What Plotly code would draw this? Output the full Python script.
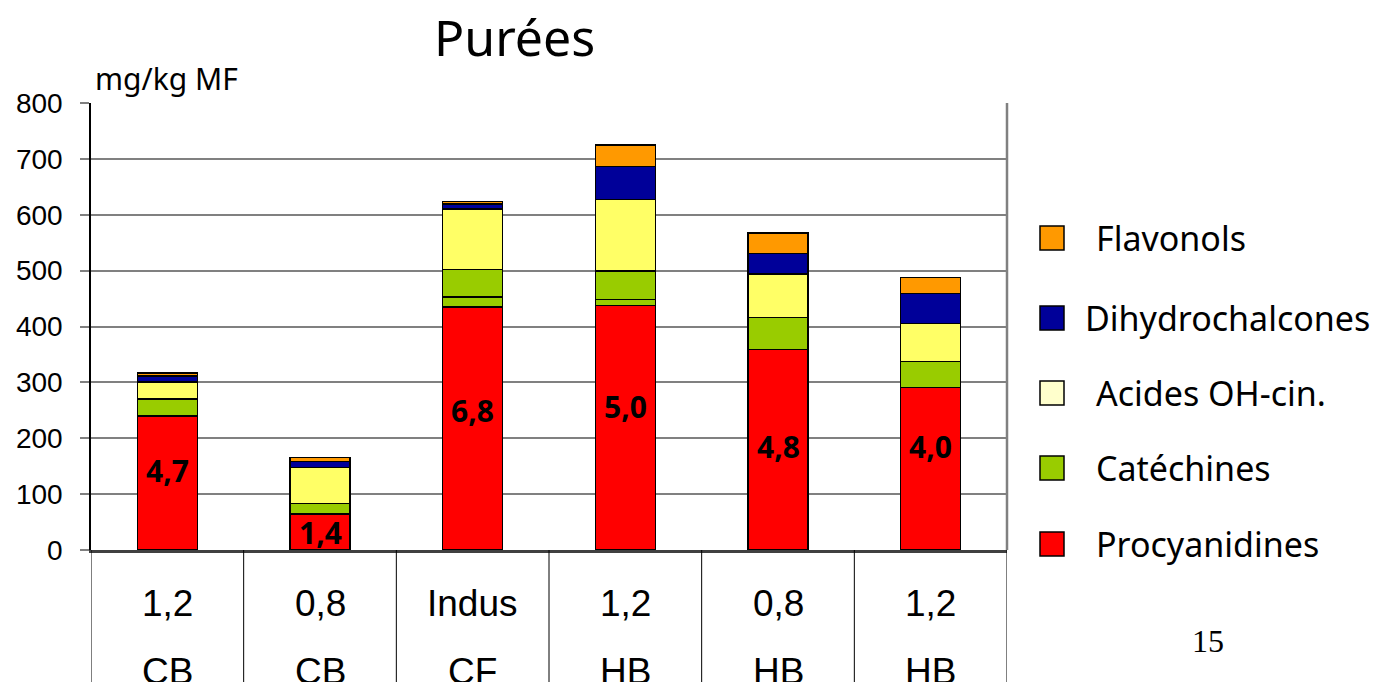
import plotly.graph_objects as go

# --- data (mg/kg MF) ---
categories = ["1,2 CB", "0,8 CB", "Indus CF", "1,2 HB", "0,8 HB", "1,2 HB "]
label_top = ["1,2", "0,8", "Indus", "1,2", "0,8", "1,2"]
label_bottom = ["CB", "CB", "CF", "HB", "HB", "HB"]

procyanidines = [240, 64, 435, 438, 359, 291]
catechines_a = [30, 19, 18, 10, 57, 46]
catechines_b = [0, 0, 49, 51, 0, 0]
acides_oh_cin = [31, 65, 108, 128, 78, 68]
dihydrochalcones = [10, 10, 9, 59, 37, 54]
flavonols = [6, 8, 5, 39, 36, 29]

bar_labels = ["4,7", "1,4", "6,8", "5,0", "4,8", "4,0"]
bar_label_y = [143, 32, 250, 256, 185, 185]

# --- styling ---
PLOT_L, PLOT_R, PLOT_T, PLOT_B = 91, 1007, 103, 550
W, H = 1387, 682
pw, ph = PLOT_R - PLOT_L, PLOT_B - PLOT_T

def px_x(px):
    return (px - PLOT_L) / pw

def px_y(py):
    return (PLOT_B - py) / ph

TEXT_FONT = "Noto Sans"
AXIS_FONT = "Liberation Sans, Arial"

series = [
    ("Procyanidines", procyanidines, "#FF0000"),
    ("Catéchines", catechines_a, "#99CC00"),
    ("Catéchines", catechines_b, "#99CC00"),
    ("Acides OH-cin.", acides_oh_cin, "#FFFF66"),
    ("Dihydrochalcones", dihydrochalcones, "#000099"),
    ("Flavonols", flavonols, "#FF9900"),
]

x_idx = list(range(len(categories)))

fig = go.Figure()
for name, vals, color in series:
    fig.add_trace(go.Bar(
        x=x_idx, y=vals, name=name,
        marker=dict(color=color, line=dict(color="black", width=1.5)),
        showlegend=False, hoverinfo="name+y",
    ))

annotations = []
shapes = []

def note(x, y, text, size, family=TEXT_FONT, xref="paper", yref="paper",
         xanchor="center"):
    annotations.append(dict(
        x=x, y=y, xref=xref, yref=yref, text=text, showarrow=False,
        xanchor=xanchor, yanchor="middle",
        font=dict(family=family, size=size, color="black"),
    ))

# values printed inside the procyanidine segments
for i, (t, yv) in enumerate(zip(bar_labels, bar_label_y)):
    note(i, yv, f"<b>{t}</b>", 30, xref="x", yref="y")

# two-row category labels under the axis
for i in x_idx:
    note(i, px_y(603), label_top[i], 37, family=AXIS_FONT, xref="x")
    note(i, px_y(671), label_bottom[i], 37, family=AXIS_FONT, xref="x")

# divider lines between the category cells
for i in range(len(categories) + 1):
    shapes.append(dict(
        type="line", xref="x", yref="paper", x0=i - 0.5, x1=i - 0.5,
        y0=0, y1=-0.4, line=dict(color="black", width=1),
    ))

# right border of the plotting area
shapes.append(dict(type="line", xref="paper", yref="paper", x0=1, x1=1,
                   y0=0, y1=1, line=dict(color="#808080", width=2.5)))

# title and unit
note(px_x(514), px_y(37), "Purées", 50)
note(px_x(93), px_y(78), "mg/kg MF", 30, xanchor="left")

# legend drawn as boxes and labels
legend_items = [
    ("Flavonols", "#FF9900", 238, 1094),
    ("Dihydrochalcones", "#000099", 318, 1083),
    ("Acides OH-cin.", "#FFFFCC", 393, 1094),
    ("Catéchines", "#99CC00", 468, 1094),
    ("Procyanidines", "#FF0000", 544, 1094),
]
for text, color, cy, tx in legend_items:
    shapes.append(dict(
        type="rect", xref="paper", yref="paper",
        x0=px_x(1040), x1=px_x(1064), y0=px_y(cy + 12), y1=px_y(cy - 12),
        fillcolor=color, line=dict(color="black", width=1.5),
    ))
    note(px_x(tx), px_y(cy), text, 34, xanchor="left")

# page number
note(px_x(1208), px_y(641), "15", 32, family="Liberation Serif")

fig.update_layout(
    width=W, height=H,
    margin=dict(l=PLOT_L, r=W - PLOT_R, t=PLOT_T, b=H - PLOT_B, pad=0),
    barmode="stack", bargap=0.607,
    plot_bgcolor="white", paper_bgcolor="white",
    annotations=annotations, shapes=shapes,
    showlegend=False,
    xaxis=dict(
        range=[-0.5, len(categories) - 0.5], showticklabels=False,
        showgrid=False, zeroline=False, ticks="",
        showline=True, linecolor="#404040", linewidth=2.5,
        fixedrange=True,
    ),
    yaxis=dict(
        range=[0, 800], dtick=100, tick0=0,
        showgrid=True, gridcolor="#808080", gridwidth=2,
        zeroline=False, showline=True, linecolor="black", linewidth=1.5,
        ticks="outside", ticklen=9, tickwidth=2, tickcolor="#808080",
        ticklabelstandoff=12,
        tickfont=dict(family=AXIS_FONT, size=28, color="black"),
        fixedrange=True,
    ),
)

fig.write_html("out.html")
